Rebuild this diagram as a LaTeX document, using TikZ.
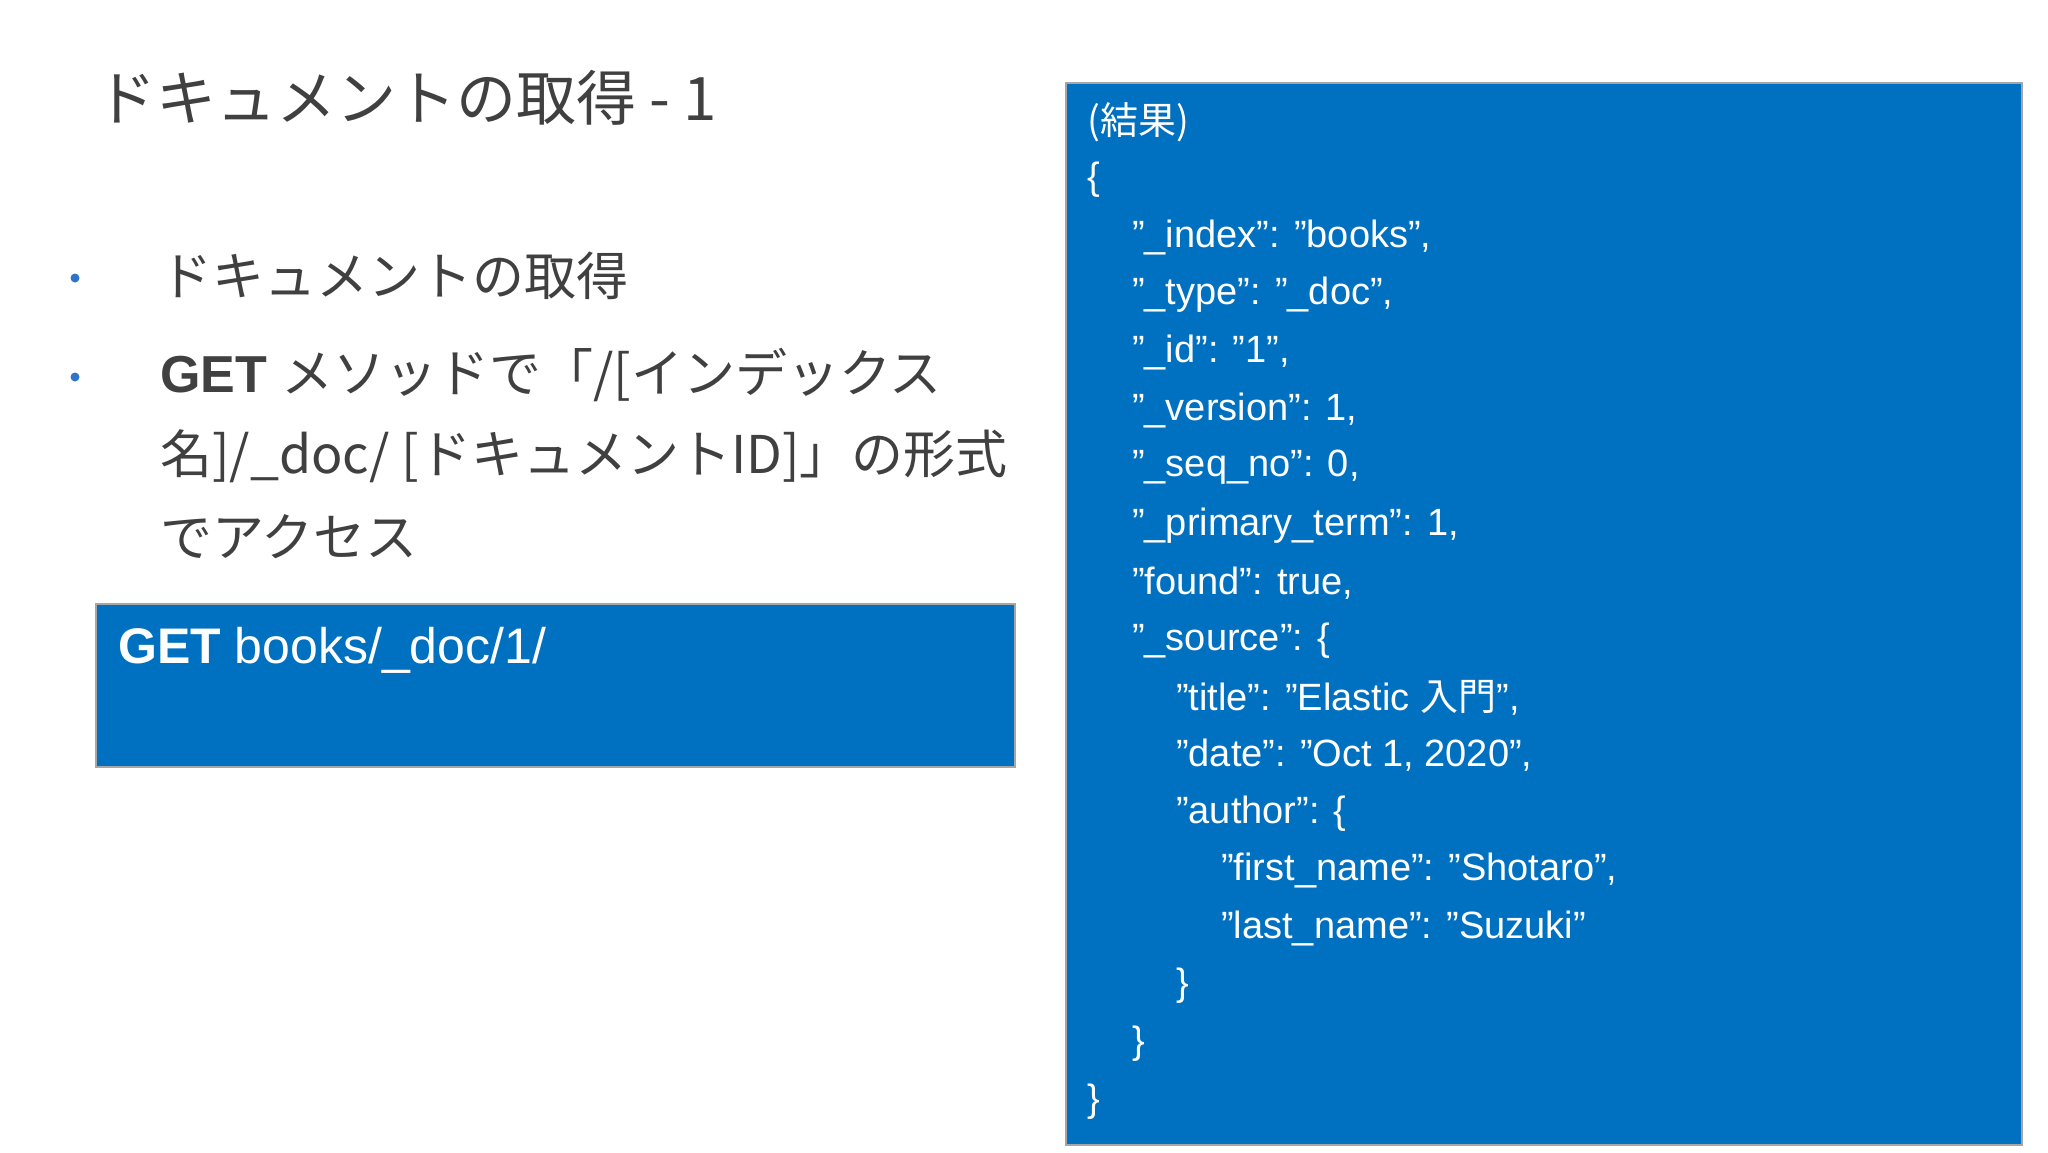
\documentclass[tikz,border=0pt]{standalone}
\usepackage{fontspec}
\setmainfont{Liberation Sans}
\newfontfamily\jp{Noto Sans CJK JP}
\definecolor{boxblue}{HTML}{0070C0}
\definecolor{txtgray}{HTML}{404040}
\definecolor{bulblue}{HTML}{2E75C7}
\begin{document}
\begin{tikzpicture}[x=1pt,y=-1pt,
  blue box/.style={fill=boxblue,draw=gray!70,line width=1.5pt},
  json/.style={anchor=west,text=white,font=\fontsize{38}{40}\selectfont,inner sep=0},
  body/.style={anchor=west,text=txtgray,font=\fontsize{52}{56}\selectfont,inner sep=0},
  bullet/.style={circle,fill=bulblue,inner sep=0,minimum size=9pt}]
\useasboundingbox (0,0) rectangle (2048,1152);
\fill[white] (0,0) rectangle (2048,1152);
\node[anchor=west,text=txtgray,font=\fontsize{60}{64}\selectfont\jp,inner sep=0] (title) at (96,98) {ドキュメントの取得 - 1};
\node[bullet] (b1) at (75,278) {};
\node[bullet] (b2) at (75,377) {};
\node[body] (t1) at (160,276) {\jp ドキュメントの取得};
\node[body] (t2) at (160,375) {\textbf{GET} \jp メソッドで「/[インデックス};
\node[body] (t3) at (160,456) {\jp 名]/\_doc/ [ドキュメントID]」の形式};
\node[body] (t4) at (160,537) {\jp でアクセス};
\draw[blue box] (96,604) rectangle (1015,767);
\node[anchor=west,text=white,font=\fontsize{50}{54}\selectfont,inner sep=0] (get) at (118,650) {\textbf{GET} books/\_doc/1/};
\draw[blue box] (1066,83) rectangle (2022,1145);
\node[json] (j0) at (1087,122.0) {\jp(結果)};
\node[json] (j1) at (1087,179.6) {\{};
\node[json] (j2) at (1132,237.2) {"\_index": "books",};
\node[json] (j3) at (1132,294.8) {"\_type": "\_doc",};
\node[json] (j4) at (1132,352.4) {"\_id": "1",};
\node[json] (j5) at (1132,410.0) {"\_version": 1,};
\node[json] (j6) at (1132,467.6) {"\_seq\_no": 0,};
\node[json] (j7) at (1132,525.2) {"\_primary\_term": 1,};
\node[json] (j8) at (1132,582.8) {"found": true,};
\node[json] (j9) at (1132,640.4) {"\_source": \{};
\node[json] (j10) at (1176,698.0) {"title": "Elastic {\jp 入門}",};
\node[json] (j11) at (1176,755.6) {"date": "Oct 1, 2020",};
\node[json] (j12) at (1176,813.2) {"author": \{};
\node[json] (j13) at (1221,870.8) {"first\_name": "Shotaro",};
\node[json] (j14) at (1221,928.4) {"last\_name": "Suzuki"};
\node[json] (j15) at (1176,986.0) {\}};
\node[json] (j16) at (1132,1043.6) {\}};
\node[json] (j17) at (1087,1101.2) {\}};
\end{tikzpicture}
\end{document}
